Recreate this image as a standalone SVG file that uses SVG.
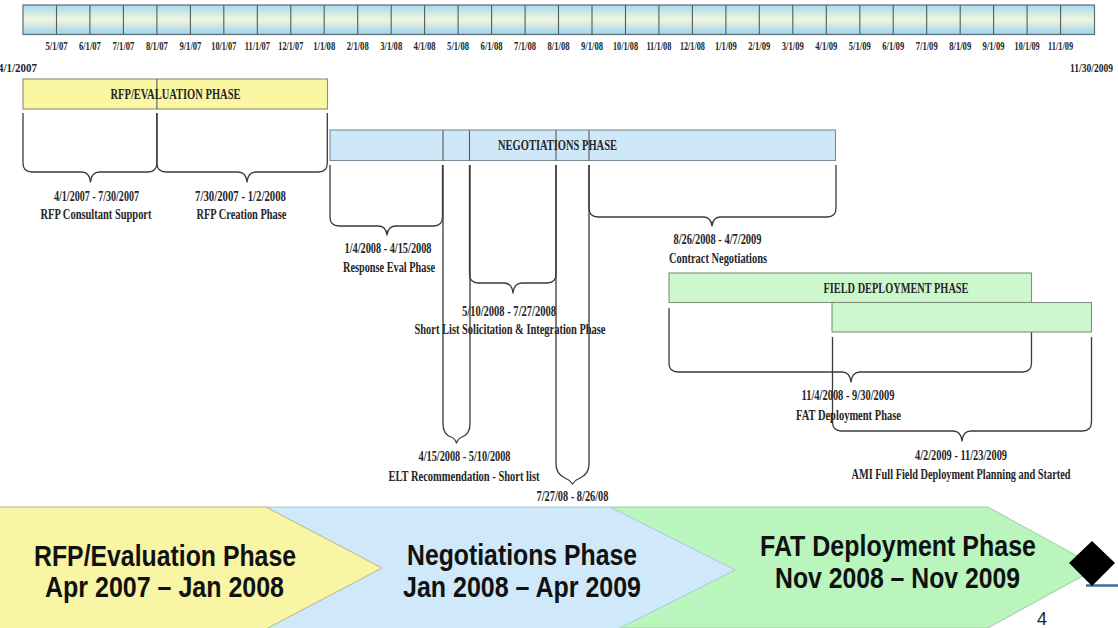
<svg xmlns="http://www.w3.org/2000/svg" width="1118" height="628" viewBox="0 0 1118 628">
  <defs>
    <linearGradient id="scaleFill" x1="0" y1="0" x2="0" y2="1">
      <stop offset="0" stop-color="#a6d8f2"/>
      <stop offset="0.5" stop-color="#f2f6dc"/>
      <stop offset="1" stop-color="#9dd2f0"/>
    </linearGradient>
    <style>
      .serif { font-family: "Liberation Serif", "Times New Roman", serif; font-weight: bold; fill: #262626; }
      .tick { font-size: 12px; text-anchor: middle; }
      .lbl { font-size: 14px; text-anchor: middle; }
      .ttl { font-size: 14px; text-anchor: middle; }
      .edge { font-size: 12px; }
      .brace { fill: none; stroke: #3a3a3a; stroke-width: 1.3; stroke-linejoin: round; }
      .divider { stroke: #4f5d63; stroke-width: 1.1; }
      .bar-rfp { fill: #faf6a2; stroke: #8e8c6e; stroke-width: 1.1; }
      .bar-neg { fill: #cfe8f8; stroke: #7c8c96; stroke-width: 1.1; }
      .bar-field { fill: #cdf8cd; stroke: #7d917d; stroke-width: 1.1; }
      .chev { font-family: "Liberation Sans", Arial, sans-serif; font-weight: bold; font-size: 30px; fill: #111; text-anchor: middle; }
    </style>
  </defs>

  <rect width="1118" height="628" fill="#ffffff"/>

  <!-- month scale -->
  <g id="month-scale">
    <rect x="23" y="5" width="1071.5" height="29.5" fill="url(#scaleFill)" stroke="#5f6d73" stroke-width="1.2"/>
    <path class="divider" d="M56.5 5V34.5M89.9 5V34.5M123.4 5V34.5M156.9 5V34.5M190.4 5V34.5M223.8 5V34.5M257.3 5V34.5M290.8 5V34.5M324.2 5V34.5M357.7 5V34.5M391.2 5V34.5M424.6 5V34.5M458.1 5V34.5M491.6 5V34.5M525.1 5V34.5M558.5 5V34.5M592 5V34.5M625.5 5V34.5M658.9 5V34.5M692.4 5V34.5M725.9 5V34.5M759.3 5V34.5M792.8 5V34.5M826.3 5V34.5M859.8 5V34.5M893.2 5V34.5M926.7 5V34.5M960.2 5V34.5M993.6 5V34.5M1027.1 5V34.5M1060.6 5V34.5"/>
    <g class="serif tick">
      <text x="56.5" y="50" textLength="22" lengthAdjust="spacingAndGlyphs">5/1/07</text>
      <text x="89.9" y="50" textLength="22" lengthAdjust="spacingAndGlyphs">6/1/07</text>
      <text x="123.4" y="50" textLength="22" lengthAdjust="spacingAndGlyphs">7/1/07</text>
      <text x="156.9" y="50" textLength="22" lengthAdjust="spacingAndGlyphs">8/1/07</text>
      <text x="190.4" y="50" textLength="22" lengthAdjust="spacingAndGlyphs">9/1/07</text>
      <text x="223.8" y="50" textLength="25" lengthAdjust="spacingAndGlyphs">10/1/07</text>
      <text x="257.3" y="50" textLength="25" lengthAdjust="spacingAndGlyphs">11/1/07</text>
      <text x="290.8" y="50" textLength="25" lengthAdjust="spacingAndGlyphs">12/1/07</text>
      <text x="324.2" y="50" textLength="22" lengthAdjust="spacingAndGlyphs">1/1/08</text>
      <text x="357.7" y="50" textLength="22" lengthAdjust="spacingAndGlyphs">2/1/08</text>
      <text x="391.2" y="50" textLength="22" lengthAdjust="spacingAndGlyphs">3/1/08</text>
      <text x="424.6" y="50" textLength="22" lengthAdjust="spacingAndGlyphs">4/1/08</text>
      <text x="458.1" y="50" textLength="22" lengthAdjust="spacingAndGlyphs">5/1/08</text>
      <text x="491.6" y="50" textLength="22" lengthAdjust="spacingAndGlyphs">6/1/08</text>
      <text x="525.1" y="50" textLength="22" lengthAdjust="spacingAndGlyphs">7/1/08</text>
      <text x="558.5" y="50" textLength="22" lengthAdjust="spacingAndGlyphs">8/1/08</text>
      <text x="592" y="50" textLength="22" lengthAdjust="spacingAndGlyphs">9/1/08</text>
      <text x="625.5" y="50" textLength="25" lengthAdjust="spacingAndGlyphs">10/1/08</text>
      <text x="658.9" y="50" textLength="25" lengthAdjust="spacingAndGlyphs">11/1/08</text>
      <text x="692.4" y="50" textLength="25" lengthAdjust="spacingAndGlyphs">12/1/08</text>
      <text x="725.9" y="50" textLength="22" lengthAdjust="spacingAndGlyphs">1/1/09</text>
      <text x="759.3" y="50" textLength="22" lengthAdjust="spacingAndGlyphs">2/1/09</text>
      <text x="792.8" y="50" textLength="22" lengthAdjust="spacingAndGlyphs">3/1/09</text>
      <text x="826.3" y="50" textLength="22" lengthAdjust="spacingAndGlyphs">4/1/09</text>
      <text x="859.8" y="50" textLength="22" lengthAdjust="spacingAndGlyphs">5/1/09</text>
      <text x="893.2" y="50" textLength="22" lengthAdjust="spacingAndGlyphs">6/1/09</text>
      <text x="926.7" y="50" textLength="22" lengthAdjust="spacingAndGlyphs">7/1/09</text>
      <text x="960.2" y="50" textLength="22" lengthAdjust="spacingAndGlyphs">8/1/09</text>
      <text x="993.6" y="50" textLength="22" lengthAdjust="spacingAndGlyphs">9/1/09</text>
      <text x="1027.1" y="50" textLength="25" lengthAdjust="spacingAndGlyphs">10/1/09</text>
      <text x="1060.6" y="50" textLength="25" lengthAdjust="spacingAndGlyphs">11/1/09</text>
    </g>
  </g>

  <!-- range end dates -->
  <g id="range-start"><text class="serif edge" x="-2" y="72" textLength="39" lengthAdjust="spacingAndGlyphs">4/1/2007</text></g>
  <g id="range-end"><text class="serif edge" x="1070" y="72" textLength="43" lengthAdjust="spacingAndGlyphs">11/30/2009</text></g>

  <!-- braces spanning each sub-period -->
  <g id="connectors">
    <path class="brace" d="M23 113V163Q23 172 32 172H81.5Q89.5 172 90.5 182Q91.5 172 99.5 172H147.9Q156.9 172 156.9 163V113"/>
    <path class="brace" d="M156.9 113V163Q156.9 172 165.9 172H238Q246 172 247 182Q248 172 256 172H318.3Q327.3 172 327.3 163V113"/>
    <path class="brace" d="M330 165V217Q330 226 339 226H378Q386 226 387 235Q388 226 396 226H433.5Q442.5 226 442.5 217V165"/>
    <path class="brace" d="M469.5 165V274Q469.5 283 478.5 283H504Q512 283 513 293Q514 283 522 283H547Q556 283 556 274V165"/>
    <path class="brace" d="M589 165V208Q589 217 598 217H703Q711 217 712 226Q713 217 721 217H827Q836 217 836 208V165"/>
    <path class="brace" d="M443 165V424Q443 434 451 437Q455 438.5 456.5 443Q458 438.5 462 437Q470 434 470 424V165"/>
    <path class="brace" d="M556 165V464Q556 474 565 478Q570 480 572.5 484Q575 480 580 478Q589 474 589 464V165"/>
    <path class="brace" d="M669 308V363Q669 372 678 372H842Q850 372 851 382Q852 372 860 372H1022.5Q1031.5 372 1031.5 363V308"/>
    <path class="brace" d="M832.5 337V422Q832.5 431 841.5 431H953Q961 431 962 441Q963 431 971 431H1082.5Q1091.5 431 1091.5 422V337"/>
  </g>

  <!-- phase bars -->
  <g id="rfp-bar">
    <rect class="bar-rfp" x="23" y="79" width="304.5" height="30"/>
    <line class="divider" x1="156.9" y1="79" x2="156.9" y2="109"/>
    <text class="serif ttl" x="175.5" y="98.5" textLength="130" lengthAdjust="spacingAndGlyphs">RFP/EVALUATION PHASE</text>
  </g>
  <g id="negotiations-bar">
    <rect class="bar-neg" x="330" y="130" width="505.5" height="30.5"/>
    <path class="divider" d="M443 130V160.5M469.5 130V160.5M556 130V160.5M589 130V160.5"/>
    <text class="serif ttl" x="557.5" y="150" textLength="119" lengthAdjust="spacingAndGlyphs">NEGOTIATIONS PHASE</text>
  </g>
  <g id="field-bar">
    <rect class="bar-field" x="669" y="273" width="362.5" height="29.5"/>
    <text class="serif ttl" x="896" y="293" textLength="145" lengthAdjust="spacingAndGlyphs">FIELD DEPLOYMENT PHASE</text>
  </g>
  <g id="field-bar-2">
    <rect class="bar-field" x="832" y="302.5" width="259.5" height="29.5"/>
  </g>

  <!-- period labels -->
  <g id="rfp-consultant" class="serif lbl">
    <text x="96.5" y="200.5" textLength="85" lengthAdjust="spacingAndGlyphs">4/1/2007 - 7/30/2007</text>
    <text x="96" y="219" textLength="111" lengthAdjust="spacingAndGlyphs">RFP Consultant Support</text>
  </g>
  <g id="rfp-creation" class="serif lbl">
    <text x="240.5" y="200.5" textLength="91" lengthAdjust="spacingAndGlyphs">7/30/2007 - 1/2/2008</text>
    <text x="241.5" y="219" textLength="90" lengthAdjust="spacingAndGlyphs">RFP Creation Phase</text>
  </g>
  <g id="response-eval" class="serif lbl">
    <text x="388" y="253" textLength="87" lengthAdjust="spacingAndGlyphs">1/4/2008 - 4/15/2008</text>
    <text x="389" y="272" textLength="92" lengthAdjust="spacingAndGlyphs">Response Eval Phase</text>
  </g>
  <g id="short-list" class="serif lbl">
    <text x="509" y="315.5" textLength="94" lengthAdjust="spacingAndGlyphs">5/10/2008 - 7/27/2008</text>
    <text x="510" y="333.5" textLength="191" lengthAdjust="spacingAndGlyphs">Short List Solicitation &amp; Integration Phase</text>
  </g>
  <g id="contract-negotiations" class="serif lbl">
    <text x="717.5" y="243.5" textLength="88" lengthAdjust="spacingAndGlyphs">8/26/2008 - 4/7/2009</text>
    <text x="718" y="262.5" textLength="98" lengthAdjust="spacingAndGlyphs">Contract Negotiations</text>
  </g>
  <g id="elt-recommendation" class="serif lbl">
    <text x="464.5" y="461" textLength="92" lengthAdjust="spacingAndGlyphs">4/15/2008 - 5/10/2008</text>
    <text x="464" y="481" textLength="151" lengthAdjust="spacingAndGlyphs">ELT Recommendation - Short list</text>
  </g>
  <g id="gap-period" class="serif lbl">
    <text x="572.5" y="501" textLength="72" lengthAdjust="spacingAndGlyphs">7/27/08 - 8/26/08</text>
  </g>
  <g id="fat-deployment" class="serif lbl">
    <text x="848" y="399.5" textLength="93" lengthAdjust="spacingAndGlyphs">11/4/2008 - 9/30/2009</text>
    <text x="848.5" y="419.5" textLength="105" lengthAdjust="spacingAndGlyphs">FAT Deployment Phase</text>
  </g>
  <g id="ami-deployment" class="serif lbl">
    <text x="961" y="459.5" textLength="92" lengthAdjust="spacingAndGlyphs">4/2/2009 - 11/23/2009</text>
    <text x="961" y="478.5" textLength="219" lengthAdjust="spacingAndGlyphs">AMI Full Field Deployment Planning and Started</text>
  </g>

  <!-- summary chevrons -->
  <g id="chevron-fat">
    <polygon points="610,507 988,507 1098,567.5 988,628 610,628" fill="#b9f5bd" stroke="#98cf9c" stroke-width="1"/>
    <text class="chev" x="898" y="556" textLength="276" lengthAdjust="spacingAndGlyphs">FAT Deployment Phase</text>
    <text class="chev" x="897.5" y="588" textLength="245" lengthAdjust="spacingAndGlyphs">Nov 2008 – Nov 2009</text>
  </g>
  <g id="chevron-negotiations">
    <polygon points="266,507 610,507 735,570 610,633 266,633" fill="#cfe9fb" stroke="#aac6da" stroke-width="1"/>
    <text class="chev" x="522" y="565" textLength="230" lengthAdjust="spacingAndGlyphs">Negotiations Phase</text>
    <text class="chev" x="522" y="597" textLength="238" lengthAdjust="spacingAndGlyphs">Jan 2008 – Apr 2009</text>
  </g>
  <g id="chevron-rfp">
    <polygon points="-2,507 266,507 382,568 266,629 -2,629" fill="#f8f5a4" stroke="#b8b58a" stroke-width="1"/>
    <text class="chev" x="165" y="566" textLength="262" lengthAdjust="spacingAndGlyphs">RFP/Evaluation Phase</text>
    <text class="chev" x="164.5" y="597" textLength="239" lengthAdjust="spacingAndGlyphs">Apr 2007 – Jan 2008</text>
  </g>

  <!-- end marker -->
  <g id="end-marker">
    <line x1="1086" y1="585.5" x2="1118" y2="585.5" stroke="#3d6d9b" stroke-width="2.5"/>
    <polygon points="1092,541 1115,563 1092,586 1069,563" fill="#000"/>
  </g>

  <g id="page-number">
    <text x="1042" y="625" font-family="Liberation Sans, Arial, sans-serif" font-size="18" fill="#222" text-anchor="middle">4</text>
  </g>
</svg>
